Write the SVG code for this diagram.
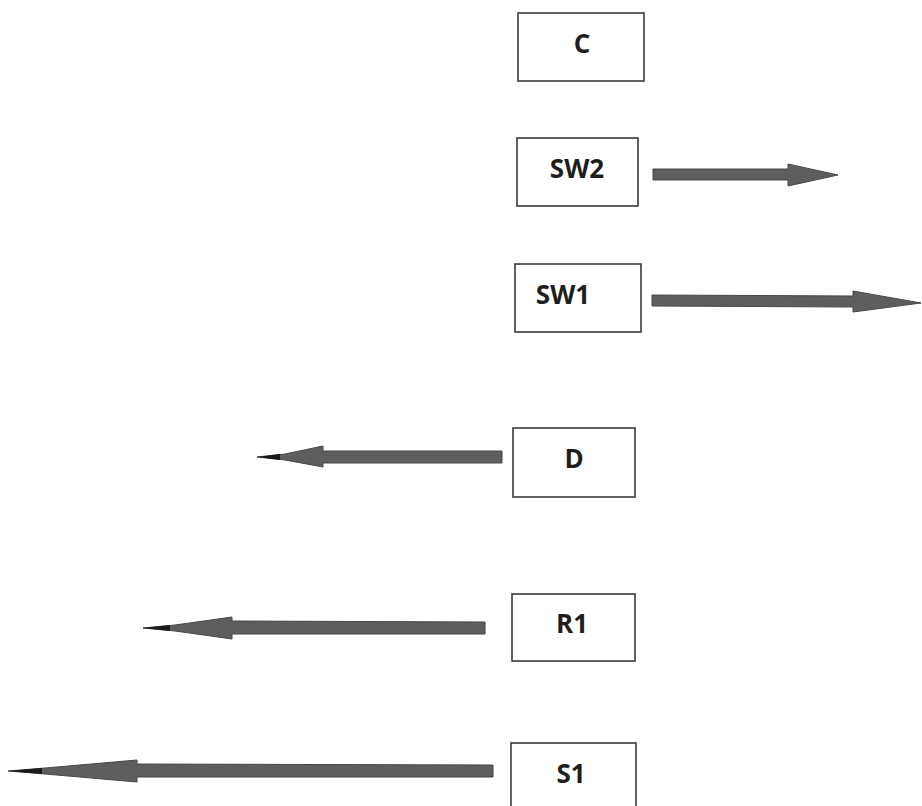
<svg xmlns="http://www.w3.org/2000/svg" width="922" height="806" viewBox="0 0 922 806">
<style>
.box{fill:#fff;stroke:#3a3a3a;stroke-width:1.6}
.lbl{font-family:"Open Sans","Liberation Sans",sans-serif;font-weight:700;font-size:26px;fill:#1e1e1e;text-anchor:middle}
.arr{fill:#5e5e5e;stroke:#474747;stroke-width:1}
.tip{fill:#1a1a1a}
</style>
<rect width="922" height="806" fill="#fff"/>
<g id="connectors">
<polygon class="arr" points="653,169 788,169 788,164 838,175 788,186 788,180 653,180"/>
<polygon class="arr" points="652,295 853,296 853,291 921,303 853,312 853,307 652,306"/>
<polygon class="arr" points="502,451 323,451 323,446 285,454 257,457 285,460 323,467 323,463 502,463"/>
<polygon class="tip" points="280,454 257,457 280,460"/>
<polygon class="arr" points="485,622 232,621 232,617 175,625 143,628 175,631 232,639 232,634 485,634"/>
<polygon class="tip" points="170,625 143,628 170,631"/>
<polygon class="arr" points="493,765 137,764 137,760 45,768 8,771 45,774 137,782 137,777 493,777"/>
<polygon class="tip" points="42,768 8,771 42,774"/>
</g>
<g id="node-C"><rect class="box" x="518" y="13" width="126" height="68"/><text class="lbl" x="582" y="53">C</text></g>
<g id="node-SW2"><rect class="box" x="517" y="138" width="121" height="68"/><text class="lbl" x="577" y="178">SW2</text></g>
<g id="node-SW1"><rect class="box" x="515" y="264" width="126" height="68"/><text class="lbl" x="563" y="304">SW1</text></g>
<g id="node-D"><rect class="box" x="513" y="428" width="122" height="69"/><text class="lbl" x="574" y="468">D</text></g>
<g id="node-R1"><rect class="box" x="512" y="594" width="123" height="67"/><text class="lbl" x="572" y="633">R1</text></g>
<g id="node-S1"><rect class="box" x="511" y="743" width="125" height="70"/><text class="lbl" x="571" y="783">S1</text></g>
</svg>
